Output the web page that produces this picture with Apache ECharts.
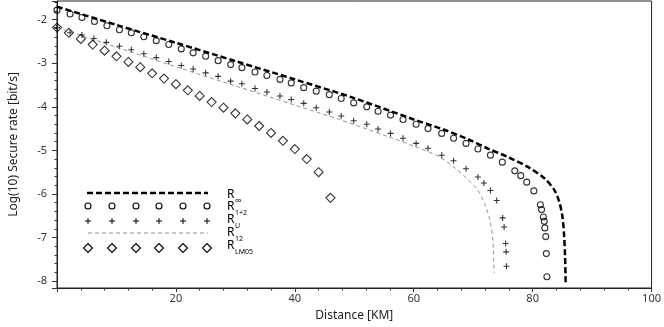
<!DOCTYPE html>
<html>
<head>
<meta charset="utf-8">
<script src="https://cdn.jsdelivr.net/npm/echarts@6/dist/echarts.min.js"></script>
<style>
  html, body { margin: 0; padding: 0; background: #fff; }
  #chart { width: 664px; height: 327px; }
</style>
</head>
<body>
<div id="chart"></div>
<script>
// R_inf (thick dashed line)
const rInf = [[0, -1.70], [10, -2.12], [20, -2.53], [30, -2.95], [40, -3.37], [50, -3.80],
  [60, -4.29], [65, -4.52], [69.2, -4.75], [72.5, -4.96], [75.8, -5.15], [79.2, -5.38],
  [81.95, -5.64], [83.6, -5.90], [84.45, -6.17], [85.0, -6.51], [85.3, -6.97], [85.45, -7.43], [85.55, -8.03]];

// R_12 (thin gray dashed line)
const r12 = [[0, -2.18], [10, -2.63], [20, -3.08], [30, -3.52], [40, -3.96], [47.5, -4.29],
  [55.8, -4.69], [60, -4.90], [64.2, -5.14], [67, -5.41], [69.5, -5.72], [70.8, -5.92],
  [71.9, -6.22], [72.8, -6.59], [73.3, -7.05], [73.5, -7.81]];

// R_1+2 (open circles)
const r1p2 = [[0, -1.78], [2.2, -1.87], [4.2, -1.95], [6.3, -2.04], [8.4, -2.14], [10.5, -2.23],
  [12.5, -2.30], [14.6, -2.39], [16.7, -2.48], [18.8, -2.57], [20.9, -2.67], [22.9, -2.76],
  [25.0, -2.84], [27.1, -2.94], [29.2, -3.03], [31.1, -3.10], [33.3, -3.20], [35.3, -3.28],
  [37.5, -3.37], [39.4, -3.45], [41.5, -3.56], [43.6, -3.64], [45.8, -3.72], [47.8, -3.81],
  [49.9, -3.91], [52.1, -4.00], [54.0, -4.10], [56.1, -4.19], [58.2, -4.29], [60.4, -4.40],
  [62.4, -4.50], [64.7, -4.61], [66.7, -4.72], [68.8, -4.84], [70.8, -4.97], [72.9, -5.11],
  [74.9, -5.27], [77.0, -5.47], [78.0, -5.58], [79.0, -5.73], [80.2, -5.93], [81.3, -6.25],
  [81.5, -6.36], [81.8, -6.53], [81.95, -6.63], [82.05, -6.78], [82.2, -6.98], [82.3, -7.37], [82.4, -7.90]];

// R_U (plus markers)
const rU = [[0, -2.18], [2.2, -2.30], [4.2, -2.35], [6.2, -2.43], [8.3, -2.52], [10.5, -2.61],
  [12.5, -2.69], [14.6, -2.78], [16.7, -2.87], [18.8, -2.96], [20.9, -3.05], [22.9, -3.13],
  [25.0, -3.22], [27.1, -3.30], [29.2, -3.41], [31.1, -3.47], [33.3, -3.58], [35.3, -3.66],
  [37.5, -3.75], [39.4, -3.83], [41.5, -3.92], [43.6, -4.02], [45.8, -4.12], [47.8, -4.21],
  [49.9, -4.32], [52.1, -4.40], [54.0, -4.51], [56.1, -4.61], [58.2, -4.72], [60.4, -4.84],
  [62.4, -4.95], [64.7, -5.11], [66.7, -5.24], [68.8, -5.42], [70.8, -5.61], [71.8, -5.75],
  [72.9, -5.92], [73.95, -6.15], [74.95, -6.55], [75.2, -6.76], [75.45, -7.14], [75.55, -7.33], [75.6, -7.66]];

// R_LM05 (diamonds)
const rLM05 = [[0, -2.18], [2, -2.30], [4, -2.44], [6, -2.57], [8, -2.71], [10, -2.84],
  [12, -2.97], [14, -3.09], [16, -3.23], [18, -3.35], [20, -3.48], [22, -3.62], [24, -3.75],
  [26, -3.89], [28, -4.02], [30, -4.15], [32, -4.29], [34, -4.44], [36, -4.60], [38, -4.78],
  [40, -4.97], [42, -5.20], [44, -5.50], [46, -6.09]];

const legendNames = ['∞', '1+2', 'U', '12', 'LM05'];

const FONT = '"Noto Sans", "Open Sans", sans-serif';
const plusPath = 'path://M4.1,0H5.9V4.1H10V5.9H5.9V10H4.1V5.9H0V4.1H4.1Z';

const chart = echarts.init(document.getElementById('chart'));

// legend drawn by hand, like in the original figure
const legX = [88, 112, 136, 159, 183, 207];
const rowY = [193, 206, 221, 233, 248];
const graphic = [];
graphic.push({ type: 'line', shape: { x1: 87, y1: rowY[0], x2: 208, y2: rowY[0] },
  style: { stroke: '#000', lineWidth: 2.5, lineDash: [6, 3] } });
graphic.push({ type: 'line', shape: { x1: 88, y1: rowY[3], x2: 208, y2: rowY[3] },
  style: { stroke: '#777', lineWidth: 0.8, lineDash: [4, 3] } });
legX.forEach(function (x) {
  graphic.push({ type: 'circle', shape: { cx: x, cy: rowY[1], r: 3 },
    style: { fill: 'none', stroke: '#000', lineWidth: 1.1 } });
  graphic.push({ type: 'line', shape: { x1: x - 3, y1: rowY[2], x2: x + 3, y2: rowY[2] },
    style: { stroke: '#000', lineWidth: 1 } });
  graphic.push({ type: 'line', shape: { x1: x, y1: rowY[2] - 3, x2: x, y2: rowY[2] + 3 },
    style: { stroke: '#000', lineWidth: 1 } });
  graphic.push({ type: 'polygon',
    shape: { points: [[x, rowY[4] - 4.5], [x + 4.5, rowY[4]], [x, rowY[4] + 4.5], [x - 4.5, rowY[4]]] },
    style: { fill: 'none', stroke: '#000', lineWidth: 1.1 } });
});
const rCenters = [195, 207, 220, 232.5, 245.5];
legendNames.forEach(function (s, i) {
  graphic.push({ type: 'text', style: { text: 'R', x: 227, y: rCenters[i], fill: '#000',
    font: '12px ' + FONT, verticalAlign: 'middle' } });
  graphic.push({ type: 'text', style: { text: s, x: 235, y: rCenters[i] + 6, fill: '#000',
    font: (i === 0 ? '10px ' : '7px ') + FONT, verticalAlign: 'middle' } });
});

const option = {
  animation: false,
  textStyle: { fontFamily: FONT },
  grid: {
    left: 55, right: 9, top: 1, bottom: 38,
    show: true, borderColor: '#222', borderWidth: 1,
  },
  xAxis: {
    type: 'value',
    min: 0, max: 100, interval: 20,
    name: 'Distance [KM]',
    nameLocation: 'middle',
    nameGap: 22,
    nameTextStyle: { fontSize: 12, color: '#222', fontFamily: FONT },
    axisLine: { show: true, lineStyle: { color: '#222', width: 1 } },
    axisTick: { show: true, inside: false, length: 4, lineStyle: { color: '#333' } },
    minorTick: { show: true, splitNumber: 5, length: 2.5, lineStyle: { color: '#333' } },
    splitLine: { show: false },
    axisLabel: { showMinLabel: false, fontSize: 11, color: '#333', margin: 5, fontFamily: FONT },
  },
  yAxis: {
    type: 'value',
    min: -8.16, max: -1.57,
    splitNumber: 6,
    name: 'Log(10) Secure rate [bit/s]',
    nameLocation: 'middle',
    nameGap: 37,
    nameRotate: 90,
    nameTextStyle: { fontSize: 12, color: '#222', fontFamily: FONT },
    axisLine: { show: true, lineStyle: { color: '#222', width: 1 } },
    axisTick: { show: true, inside: false, length: 5, lineStyle: { color: '#333' } },
    minorTick: { show: true, splitNumber: 5, length: 2.5, lineStyle: { color: '#333' } },
    splitLine: { show: false },
    axisLabel: { showMinLabel: false, showMaxLabel: false, fontSize: 11, color: '#333', margin: 10, fontFamily: FONT },
  },
  graphic: graphic,
  series: [
    {
      name: 'R12', type: 'line', data: r12, smooth: 0.3, showSymbol: false,
      lineStyle: { color: '#777', width: 0.8, type: [4, 3] },
    },
    {
      name: 'Rinf', type: 'line', data: rInf, smooth: 0.3, showSymbol: false,
      lineStyle: { color: '#000', width: 2.5, type: [6, 3] },
    },
    {
      name: 'R1+2', type: 'scatter', data: r1p2, symbol: 'circle', symbolSize: 6,
      itemStyle: { color: 'rgba(255,255,255,0)', borderColor: '#000', borderWidth: 1.1 },
    },
    {
      name: 'RU', type: 'scatter', data: rU, symbol: plusPath, symbolSize: 6,
      itemStyle: { color: '#000' },
    },
    {
      name: 'RLM05', type: 'scatter', data: rLM05, symbol: 'diamond', symbolSize: 9,
      itemStyle: { color: 'rgba(255,255,255,0)', borderColor: '#000', borderWidth: 1.1 },
    },
  ],
};
chart.setOption(option);
</script>
</body>
</html>
